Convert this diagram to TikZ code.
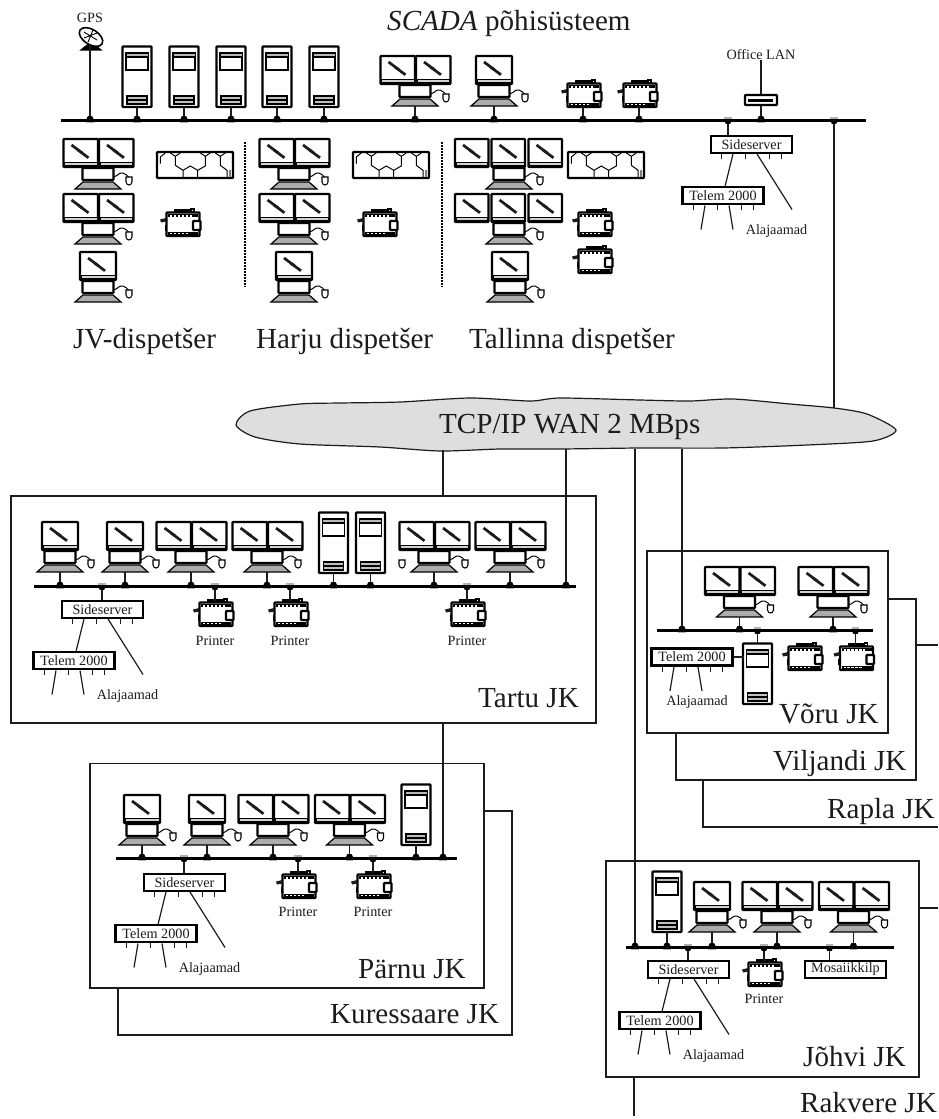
\documentclass[tikz,border=0pt]{standalone}
\usepackage{fontspec}
\setmainfont{Liberation Serif}
\definecolor{ink}{HTML}{1C1C1C}
\definecolor{wancloud}{HTML}{DEDEDE}

% icon parts, y runs downward
\newcommand{\screenat}[2]{%
  \draw[iconbox] (#1,-50) rectangle ++(#2,28);
  \draw[line width=0.9,fill=gray!35] (#1+1,-26.5) rectangle ++(#2-2,3);
  \draw[line width=2.7,draw=ink] (#1+8,-44) -- ++(10.5,7.8);
  \draw[line width=2.7,draw=ink] (#1+14.5,-39) -- ++(10.5,7.8);
}
\newcommand{\deskunit}{%
  \draw[iconbox] (-15.5,-21) rectangle (15.5,-9);
  \draw[line width=1.2,draw=black,fill=gray!65] (-15,-7) -- (15,-7) -- (23,0) -- (-23,0) -- cycle;
  \draw[line width=1] (15.5,-12) .. controls (20,-13) and (21,-17) .. (25,-16) .. controls (28,-15.5) and (29,-13) .. (31,-11.5);
  \pic at (31,0) {mousebody};
}
\newcommand{\telemcode}{%
  \node[netbox] (-t) at (0,0) {Telem 2000};
  \foreach \x in {-30,-6,18,30} \draw[stem,line width=0.9] (\x,9.5) -- (\x,14.5);
  \draw[stem] (-18,10) -- (-22,34);
  \draw[stem] (6,10) -- (10,34);
}
\newcommand{\tapup}[2]{%
  \draw[stem] (#1) -- (#1 |- #2);
  \path (#1 |- #2) pic {tapmark=1};
}
\newcommand{\tapdown}[2]{%
  \draw[stem] (#1) -- (#1 |- #2);
  \path (#1 |- #2) pic {tapmark=-1};
}

\tikzset{
  iconbox/.style={draw=black,line width=2.3,rounded corners=0.8,fill=white},
  stem/.style={draw=ink,line width=1.2},
  lanbus/.style={draw=black,line width=3},
  sitebox/.style={draw=ink,line width=1.3,fill=white,outer sep=0pt,inner sep=0pt},
  tail/.style={draw=ink,line width=1.3},
  netbox/.style={draw=black,line width=2.4,fill=white,inner sep=0pt,minimum width=81,minimum height=17,font=\smalltext,text=ink},
  tiny label/.style={inner sep=0pt,font=\smalltext,text=ink},
  big label/.style={inner sep=0pt,anchor=base west,font=\bigtext,text=ink},
  pics/tapmark/.style={code={
    \fill[black] (-3.5,-#1*1) -- (3.5,-#1*1) -- (2.2,-#1*3.8) -- (-2.2,-#1*3.8) -- cycle;
    \fill[gray!60] (-3.8,#1*1.5) rectangle (3.8,#1*3.4);
  }},
  pics/mousebody/.style={code={
    \draw[line width=1.1,fill=white] (-3,-12) -- (3,-12) -- (3,-7) .. controls (3,-5) and (1,-4) .. (0,-4) .. controls (-1,-4) and (-3,-5) .. (-3,-7) -- cycle;
  }},
  pics/single/.style={code={
    \coordinate (-p) at (0,0);
    \screenat{-18}{36}
    \deskunit
  }},
  pics/dual/.style={code={
    \coordinate (-p) at (0,0);
    \screenat{-34.5}{34.5}
    \screenat{1}{34.5}
    \deskunit
  }},
  pics/triple/.style={code={
    \coordinate (-p) at (0,0);
    \screenat{-54}{33.5}
    \screenat{-17.5}{33.5}
    \screenat{19.5}{33.5}
    \deskunit
  }},
  pics/server/.style={code={
    \coordinate (-p) at (0,0);
    \draw[iconbox] (-14.5,-60.5) rectangle (14.5,0);
    \draw[line width=1.1] (-11,-54) rectangle (11,-37);
    \draw[line width=1.1] (-11,-50) -- (11,-50);
    \fill[gray!55] (-10.5,-53) rectangle (10.5,-51);
    \draw[line width=1.1,fill=gray!50] (-10,-11) rectangle (10,-3);
    \draw[line width=1.1] (-10,-7) -- (10,-7);
  }},
  pics/printer/.style={code={
    \coordinate (-p) at (-1,-25);
    \draw[iconbox] (-16.5,-23.5) rectangle (16.5,0);
    \fill[black] (-9,-27) rectangle (7,-24);
    \draw[line width=1.2,fill=white] (8,-27) rectangle (11,-24.5);
    \draw[line width=3.6,draw=black] (-15,-20.5) -- (15,-20.5);
    \draw[white,line width=2,dash pattern=on 2.4pt off 1.5pt] (-13,-20.5) -- (9,-20.5);
    \draw[line width=3.4,draw=black] (-15,-2.5) -- (15,-2.5);
    \draw[white,line width=1.8,dash pattern=on 2.4pt off 1.5pt] (-13,-2.5) -- (6,-2.5);
    \draw[iconbox] (10,-15) rectangle (17.5,-6);
    \fill[ink] (-17,-18) -- (-23,-16.5) -- (-22,-13.5) -- (-17,-14.5) -- cycle;
    \fill[black] (-18.5,-11) rectangle (-16,-5);
  }},
  pics/mosaic/.style={code={
    \draw[iconbox] (0,0) rectangle (76,26);
    \draw[line width=1]
      (13.3,1) -- (18.3,4.3) -- (23.3,1)
      (18.3,4.3) -- (18.3,13.3) -- (26,18.3) -- (26,26)
      (26,18.3) -- (33.3,14) -- (40.7,18.3) -- (40.7,26)
      (40.7,18.3) -- (48.3,14) -- (48.3,4.3) -- (43.3,1)
      (48.3,4.3) -- (53.3,1)
      (58.3,1) -- (63.3,4.3) -- (68.3,1)
      (63.3,4.3) -- (63.3,13.3) -- (70,18.3) -- (70,26)
      (3.3,11.7) -- (3.3,5) -- (8.3,1);
    \draw[line width=1.2,gray] (73,18) -- (73,25);
  }},
  pics/dish/.style={code={
    \fill[black] (-10.7,0.7) -- (-7,-2.5) -- (-1,-7) -- (1,-7) -- (9,-2.5) -- (12.7,0.7) -- cycle;
    \draw[line width=1.6,fill=white,rotate around={-32:(1,-13)}] (1,-13) ellipse (13 and 7.5);
    \draw[line width=0.9] (-6,-18) -- (7,-10) (3,-20) -- (-2,-8) (7,-17) -- (-6,-12);
  }},
  pics/telem/.style={code={\telemcode}},
  pics/sideblock/.style={code={
    \node[netbox] (-s) at (0,0) {Sideserver};
    \foreach \x in {-30,-6,18,30} \draw[stem,line width=0.9] (\x,9.5) -- (\x,14.5);
    \begin{scope}[shift={(-28.5,51)}]
      \telemcode
    \end{scope}
    \draw[stem] (-18.5,9.5) -- (-26.5,42);
    \draw[stem] (5.5,9.5) -- (40.5,65);
    \node[tiny label] (-a) at (25,87) {Alajaamad};
  }},
}
\newcommand{\smalltext}{\fontsize{14.2}{16}\selectfont}
\newcommand{\bigtext}{\fontsize{29.1}{31}\selectfont}

\begin{document}
\begin{tikzpicture}[x=1pt,y=-1pt]
  \useasboundingbox (0,0) rectangle (938,1119);

  % titles
  \node[big label] (title) at (387,30) {\textit{SCADA} põhisüsteem};
  \node[big label] (jvname) at (73,348) {JV-dispetšer};
  \node[big label] (hjname) at (256,348) {Harju dispetšer};
  \node[big label] (tlname) at (469,348) {Tallinna dispetšer};

  % main bus
  \coordinate (busMa) at (61,120);
  \coordinate (busMb) at (866,120);
  \draw[lanbus] (busMa) -- (busMb);
  \node[tiny label] (gps) at (90,18) {GPS};
  \pic (sat) at (90,50) {dish};
  \coordinate (satp) at (90,45);
  \tapup{satp}{busMa}
  \foreach \n/\x/\y/\k in {m1/137/107/server, m2/184/107/server, m3/231/107/server,
      m4/277/107/server, m5/324/107/server, m6/415/106/dual, m7/494/106/single} {
    \pic (\n) at (\x,\y) {\k};
    \tapup{\n-p}{busMa}
  }
  \foreach \n/\x in {mp1/584, mp2/640} {
    \pic (\n) at (\x,107) {printer};
    \coordinate (\n-q) at (\x-1,107);
    \tapup{\n-q}{busMa}
  }
  \node[tiny label] (lan) at (761,55) {Office LAN};
  \node[iconbox,minimum width=32,minimum height=10,inner sep=0pt,fill=white] (rtr) at (761,100) {};
  \draw[line width=3] (rtr.west) ++(4,0) -- ++(25,0);
  \draw[stem] (lan.south) -- (rtr.north);
  \tapup{rtr.south}{busMa}
  \pic (ms) at (751.5,144.5) {sideblock};
  \coordinate (mst) at (728,135);
  \tapdown{mst}{busMa}

  % dispatcher desks
  \foreach \n/\x/\y/\k in {d1/98/189/dual, d2/98/244/dual, d3/98/302/single,
      d4/294/189/dual, d5/294/244/dual, d6/294/302/single,
      d7/509/189/triple, d8/509/244/triple, d9/510/302/single} {
    \pic (\n) at (\x,\y) {\k};
  }
  \foreach \n/\x in {b1/157, b2/353, b3/568} \pic (\n) at (\x,152) {mosaic};
  \foreach \n/\x/\y in {dp1/183/236, dp2/380/236, dp3/595/236, dp4/595/273} \pic (\n) at (\x,\y) {printer};
  \foreach \x in {245,442} \draw[line width=1.5,dash pattern=on 2pt off 1pt] (\x,142) -- (\x,287);

  % wan cloud
  \draw[draw=ink,line width=1.2,fill=wancloud] plot[smooth cycle,tension=0.45] coordinates {
    (236,425) (250,411) (300,404) (340,403) (400,402) (470,398) (530,401) (560,398)
    (640,400) (690,401) (733,399) (790,404) (834,408) (867,414) (896,430) (873,441)
    (807,445) (723,448) (640,448) (560,449) (500,449) (440,451)
    (380,447) (300,444) (255,437)};
  \node[big label] (wan) at (439,433) {TCP/IP WAN 2 MBps};
  \coordinate (wanM) at (834,408);
  \coordinate (wanT) at (443,450);
  \coordinate (wanB) at (566,449);
  \coordinate (wanJ) at (635,449);
  \coordinate (wanV) at (682,449);
  \tapdown{wanM}{busMa}

  % back sites
  \draw[tail] (916,645) -- (938,645);
  \draw[tail] (938,827) -- (703,827) -- (703,780);
  \draw[tail] (888,599) -- (916,599) -- (916,780) -- (676,780) -- (676,733);
  \draw[tail] (484,811) -- (512,811) -- (512,1035) -- (118,1035) -- (118,988);
  \draw[tail] (919,908) -- (938,908);
  \node[big label] (vlname) at (773,770) {Viljandi JK};
  \node[big label] (rpname) at (827,818) {Rapla JK};
  \node[big label] (krname) at (330,1023) {Kuressaare JK};
  \node[big label] (rkname) at (800,1112) {Rakvere JK};

  % front sites
  \node[sitebox,minimum width=585,minimum height=227] (tartu) at (303.5,609.5) {};
  \node[sitebox,minimum width=394,minimum height=224.5] (parnu) at (287,875.75) {};
  \node[sitebox,minimum width=241,minimum height=182] (voru) at (767.5,642) {};
  \node[sitebox,minimum width=313,minimum height=216] (johvi) at (762.5,969) {};
  \node[big label] (taname) at (478,707) {Tartu JK};
  \node[big label] (paname) at (358,978) {Pärnu JK};
  \node[big label] (voname) at (779,723) {Võru JK};
  \node[big label] (joname) at (803,1066) {Jõhvi JK};
  \draw[stem] (wanT) -- (wanT |- tartu.north);
  \coordinate (tartuS) at (443,723);
  \coordinate (johviS) at (634,1077);
  \coordinate (rakv) at (634,1116);
  \draw[tail] (johviS) -- (rakv);

  % tartu
  \coordinate (busTa) at (34,586);
  \coordinate (busTb) at (576,586);
  \draw[lanbus] (busTa) -- (busTb);
  \foreach \n/\x/\y/\k in {t1/60/572/single, t2/125/572/single, t3/191/572/dual, t4/267/572/dual,
      t5/333.5/573/server, t6/370.5/573/server, t7/434/572/dual, t8/510/572/dual} {
    \pic (\n) at (\x,\y) {\k};
    \tapup{\n-p}{busTa}
  }
  \pic at (402,572) {mousebody};
  \tapup{wanB}{busTa}
  \pic (ts) at (102.5,609.5) {sideblock};
  \coordinate (tst) at (102,600);
  \tapdown{tst}{busTa}
  \foreach \n/\x in {tp1/216, tp2/291, tp3/468} {
    \pic (\n) at (\x,626) {printer};
    \tapdown{\n-p}{busTa}
    \node[tiny label] (\n l) at (\x-1,640.5) {Printer};
  }

  % parnu
  \coordinate (busPa) at (116,858);
  \coordinate (busPb) at (457,858);
  \draw[lanbus] (busPa) -- (busPb);
  \foreach \n/\x/\y/\k in {p1/142/845/single, p2/207/845/single, p3/273/845/dual,
      p4/349.5/845/dual, p5/416/845/server} {
    \pic (\n) at (\x,\y) {\k};
    \tapup{\n-p}{busPa}
  }
  \tapup{tartuS}{busPa}
  \pic (ps) at (184.5,882.5) {sideblock};
  \coordinate (pst) at (184,873);
  \tapdown{pst}{busPa}
  \foreach \n/\x in {pp1/299, pp2/374} {
    \pic (\n) at (\x,898) {printer};
    \tapdown{\n-p}{busPa}
    \node[tiny label] (\n l) at (\x-1,912) {Printer};
  }

  % voru
  \coordinate (busVa) at (657,630);
  \coordinate (busVb) at (873,630);
  \draw[lanbus] (busVa) -- (busVb);
  \foreach \n/\x in {v1/739.5, v2/833} {
    \pic (\n) at (\x,617) {dual};
    \tapup{\n-p}{busVa}
  }
  \tapup{wanV}{busVa}
  \pic (v3) at (757.5,704) {server};
  \coordinate (v3t) at (757.5,643);
  \tapdown{v3t}{busVa}
  \pic (vt) at (692,657) {telem};
  \draw[stem] (vt-t.east) -- ++(10,0);
  \node[tiny label] (val) at (697,702.5) {Alajaamad};
  \pic (vp1) at (805,670) {printer};
  \pic (vp2) at (856.5,670) {printer};
  \tapdown{vp2-p}{busVa}

  % johvi
  \coordinate (busJa) at (626,947);
  \coordinate (busJb) at (894,947);
  \draw[lanbus] (busJa) -- (busJb);
  \foreach \n/\x/\y/\k in {j1/667/932/server, j2/712/932/single, j3/777/932/dual, j4/853.5/932/dual} {
    \pic (\n) at (\x,\y) {\k};
    \tapup{\n-p}{busJa}
  }
  \tapup{wanJ}{busJa}
  \pic (js) at (688.5,969.5) {sideblock};
  \coordinate (jst) at (688,960);
  \tapdown{jst}{busJa}
  \pic (jp) at (765,986) {printer};
  \tapdown{jp-p}{busJa}
  \node[tiny label] (jpl) at (764,999) {Printer};
  \node[netbox] (mosk) at (845.5,969.5) {Mosaiikkilp};
  \coordinate (moskt) at (829.5,960);
  \tapdown{moskt}{busJa}
\end{tikzpicture}
\end{document}
